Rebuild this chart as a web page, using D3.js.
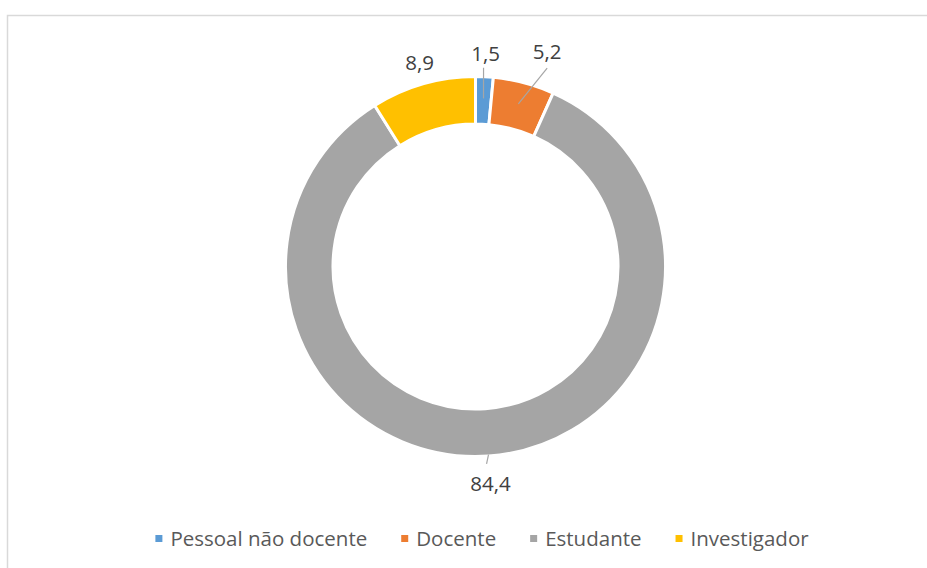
<!DOCTYPE html>
<html>
<head>
<meta charset="utf-8">
<script src="https://cdn.jsdelivr.net/npm/d3@7"></script>
<style>
  body { margin: 0; background: #fff; }
  text { font-family: "Open Sans", "DejaVu Sans", sans-serif; }
</style>
</head>
<body>
<div id="chart"></div>
<script>
// chart data
var categories = ["Pessoal não docente", "Docente", "Estudante", "Investigador"];
var values = [1.5, 5.2, 84.4, 8.9];
var valueLabels = ["1,5", "5,2", "84,4", "8,9"];
var colors = ["#5B9BD5", "#ED7D31", "#A5A5A5", "#FFC000"];

var width = 927;
var height = 568;
var cx = 475.5, cy = 266.5;
var outerR = 190, innerR = 142.5;

var svg = d3.select("#chart")
  .append("svg")
  .attr("width", width)
  .attr("height", height);

// chart area border
svg.append("rect")
  .attr("x", 7.5)
  .attr("y", 15.5)
  .attr("width", 940)
  .attr("height", 600)
  .attr("fill", "none")
  .attr("stroke", "#d9d9d9")
  .attr("stroke-width", 1.5);

var color = d3.scaleOrdinal().domain(categories).range(colors);

var pie = d3.pie().sort(null).value(function(d) { return d.value; });
var data = categories.map(function(c, i) {
  return { name: c, value: values[i], label: valueLabels[i] };
});
var arcs = pie(data);

var arc = d3.arc().innerRadius(innerR).outerRadius(outerR);

var g = svg.append("g").attr("transform", "translate(" + cx + "," + cy + ")");

g.selectAll("path.slice")
  .data(arcs)
  .enter()
  .append("path")
  .attr("class", "slice")
  .attr("d", arc)
  .attr("fill", function(d) { return color(d.data.name); })
  .attr("stroke", "#fff")
  .attr("stroke-width", 3);

// label placement (radius along the middle angle), small nudges like excel does
var labelR = { "Pessoal não docente": 213, "Docente": 226, "Estudante": 218, "Investigador": 211 };
var labelShift = { "Pessoal não docente": 0, "Docente": 0.065, "Estudante": 0, "Investigador": 0.012 };

function midAngle(d) { return (d.startAngle + d.endAngle) / 2; }
function polar(r, a) { return [r * Math.sin(a), -r * Math.cos(a)]; }

arcs.forEach(function(d) {
  var a = midAngle(d) + labelShift[d.data.name];
  var p = polar(labelR[d.data.name], a);
  g.append("text")
    .attr("x", p[0])
    .attr("y", p[1])
    .attr("dy", "0.35em")
    .attr("text-anchor", "middle")
    .attr("fill", "#404040")
    .style("font-size", "20.5px")
    .text(d.data.label);

  // leader lines for the labels pushed away from their slice
  if (d.data.name === "Investigador") return;
  var end, start;
  var m = midAngle(d);
  if (d.value > 20) {
    end = polar(outerR - 1.5, m);
    start = [p[0] - 4, p[1] - 20];
  } else {
    end = polar((innerR + outerR) / 2 + 2, m);
    start = d.data.name === "Docente" ? [p[0], p[1] + 16] : [p[0] - 2, p[1] + 14];
  }
  if (d.data.name === "Pessoal não docente") end[0] = start[0];
  g.append("line")
    .attr("x1", start[0]).attr("y1", start[1])
    .attr("x2", end[0]).attr("y2", end[1])
    .attr("stroke", "#A6A6A6")
    .attr("stroke-width", 1.2);
});

// legend
var legend = svg.append("g");
var gap = 34, sw = 7, textOff = 15;
var items = legend.selectAll("g")
  .data(categories)
  .enter()
  .append("g");

items.append("rect")
  .attr("width", sw)
  .attr("height", sw)
  .attr("y", -sw / 2 - 0.5)
  .attr("fill", function(d) { return color(d); });

items.append("text")
  .attr("x", textOff)
  .attr("dy", "0.35em")
  .attr("fill", "#595959")
  .style("font-size", "20.5px")
  .text(function(d) { return d; });

var x = 0;
items.each(function() {
  var w = d3.select(this).select("text").node().getComputedTextLength();
  d3.select(this).attr("transform", "translate(" + x + ",0)");
  x += textOff + w + gap;
});
var total = x - gap;
legend.attr("transform", "translate(" + (482 - total / 2) + ",539)");
</script>
</body>
</html>
